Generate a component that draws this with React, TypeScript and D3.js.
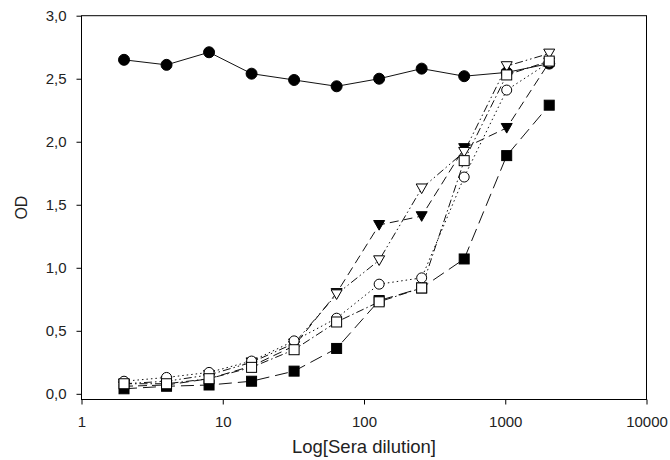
import React, { useRef, useEffect } from 'react';
import * as d3 from 'd3';

// dilution steps (x) and OD readings per serum series
const dilutions = [2, 4, 8, 16, 32, 64, 128, 256, 512, 1024, 2048];
const filledCircle = [2.65, 2.61, 2.71, 2.54, 2.49, 2.44, 2.50, 2.58, 2.52, 2.55, 2.62];
const filledSquare = [0.04, 0.06, 0.07, 0.10, 0.18, 0.36, 0.74, 0.84, 1.07, 1.89, 2.29];
const filledTriangle = [0.06, 0.07, 0.12, 0.22, 0.38, 0.80, 1.34, 1.41, 1.95, 2.11, 2.63];
const openTriangle = [0.08, 0.10, 0.15, 0.25, 0.40, 0.79, 1.06, 1.63, 1.92, 2.60, 2.70];
const openCircle = [0.10, 0.13, 0.17, 0.26, 0.42, 0.60, 0.87, 0.92, 1.72, 2.41, 2.63];
const openSquare = [0.08, 0.08, 0.12, 0.21, 0.35, 0.57, 0.73, 0.84, 1.85, 2.53, 2.64];

const xTicks = [1, 10, 100, 1000, 10000];
const yTicks = [0, 0.5, 1, 1.5, 2, 2.5, 3];

const series = [
  { values: filledCircle, shape: 'circle', fill: '#000', dash: null },
  { values: filledSquare, shape: 'square', fill: '#000', dash: '13,6' },
  { values: filledTriangle, shape: 'triangle', fill: '#000', dash: '9,5' },
  { values: openTriangle, shape: 'triangle', fill: '#fff', dash: '8,3,1.5,3,1.5,3' },
  { values: openCircle, shape: 'circle', fill: '#fff', dash: '1.5,3' },
  { values: openSquare, shape: 'square', fill: '#fff', dash: '8,3,1.5,3' },
];

const App = () => {
  const ref = useRef<SVGSVGElement>(null);

  useEffect(() => {
    const svg = d3.select(ref.current);
    svg.selectAll('*').remove();

    const left = 81.5, right = 646.5, top = 15.7, bottom = 399.5;
    const font = 'Liberation Sans, Arial, sans-serif';

    const x = d3.scaleLog().domain([1, 10000]).range([left, right]);
    const y = d3.scaleLinear().domain([-0.045, 3]).range([bottom, top]);

    // frame
    svg.append('rect')
      .attr('x', left).attr('y', top)
      .attr('width', right - left).attr('height', bottom - top)
      .attr('fill', 'none').attr('stroke', '#000').attr('stroke-width', 1);

    const fmt = (d: number) => d3.format('.1f')(d).replace('.', ',');

    const yAxis = svg.append('g')
      .attr('transform', `translate(${left},0)`)
      .call(d3.axisLeft(y).tickValues(yTicks).tickFormat(fmt as any).tickSize(5).tickPadding(10));
    yAxis.select('.domain').remove();

    const xAxis = svg.append('g')
      .attr('transform', `translate(0,${bottom})`)
      .call(d3.axisBottom(x).tickValues(xTicks).tickFormat(d3.format('d') as any).tickSize(5).tickPadding(12));
    xAxis.select('.domain').remove();

    svg.selectAll('.tick text')
      .attr('font-family', font).attr('font-size', 15).attr('fill', '#222');
    svg.selectAll('.tick line').attr('stroke', '#000');

    svg.append('text')
      .attr('x', (left + right) / 2).attr('y', 453)
      .attr('text-anchor', 'middle')
      .attr('font-family', font).attr('font-size', 18.5).attr('fill', '#222')
      .text('Log[Sera dilution]');

    svg.append('text')
      .attr('transform', `translate(27,${(top + bottom) / 2}) rotate(-90)`)
      .attr('text-anchor', 'middle')
      .attr('font-family', font).attr('font-size', 16).attr('fill', '#222')
      .text('OD');

    const line = d3.line<number>()
      .x((_, i) => x(dilutions[i]))
      .y(d => y(d));

    series.forEach(s => {
      svg.append('path')
        .datum(s.values)
        .attr('fill', 'none')
        .attr('stroke', '#111')
        .attr('stroke-width', 1)
        .attr('stroke-dasharray', s.dash)
        .attr('d', line);
    });

    series.forEach(s => {
      const g = svg.append('g');
      s.values.forEach((v, i) => {
        const cx = x(dilutions[i]);
        const cy = y(v);
        if (s.shape === 'circle') {
          g.append('circle')
            .attr('cx', cx).attr('cy', cy).attr('r', s.fill === '#000' ? 5.5 : 5)
            .attr('fill', s.fill).attr('stroke', '#000').attr('stroke-width', 1);
        } else if (s.shape === 'square') {
          g.append('rect')
            .attr('x', cx - 5).attr('y', cy - 5).attr('width', 10).attr('height', 10)
            .attr('fill', s.fill).attr('stroke', '#000').attr('stroke-width', 1);
        } else {
          const h = 5.5;
          g.append('path')
            .attr('d', `M${cx - h},${cy - h * 0.8}L${cx + h},${cy - h * 0.8}L${cx},${cy + h * 0.95}Z`)
            .attr('fill', s.fill).attr('stroke', '#000').attr('stroke-width', 1);
        }
      });
    });
  }, []);

  return (
    <svg ref={ref} width={670} height={460}
      style={{ position: 'absolute', left: 0, top: 0, background: '#fff' }} />
  );
};

export default App;
